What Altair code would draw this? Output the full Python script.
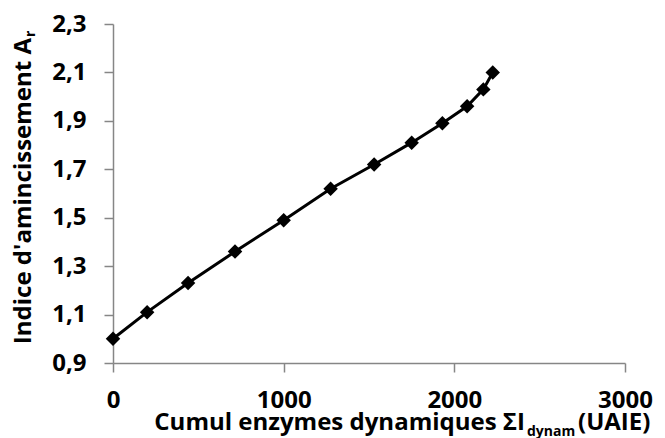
import altair as alt
import pandas as pd

# Data
cumul = [0, 200, 440, 715, 1000, 1275, 1530, 1750, 1930, 2075, 2170, 2225]
indice = [1.00, 1.11, 1.23, 1.36, 1.49, 1.62, 1.72, 1.81, 1.89, 1.96, 2.03, 2.10]
x_ticks = [0, 1000, 2000, 3000]
y_ticks = [0.9, 1.1, 1.3, 1.5, 1.7, 1.9, 2.1, 2.3]

x_title_main = ["Cumul enzymes dynamiques ΣI"]
x_title_sub = ["dynam"]
x_title_end = ["(UAIE)"]
y_title_main = ["Indice d'amincissement A"]
y_title_sub = ["r"]

FONT = "Open Sans"
AXC = "#868686"

df = pd.DataFrame({"x": cumul, "y": indice})

xenc = alt.X(
    "x:Q",
    scale=alt.Scale(domain=[0, 3000], nice=False, zero=False),
    axis=alt.Axis(
        values=x_ticks, title=None, grid=False,
        labelExpr="format(datum.value, 'd')",
        tickSize=9, labelPadding=16, labelFlush=False,
    ),
)
yenc = alt.Y(
    "y:Q",
    scale=alt.Scale(domain=[0.9, 2.3], nice=False, zero=False),
    axis=alt.Axis(
        values=y_ticks, title=None, grid=False,
        labelExpr="replace(format(datum.value, '.1f'), '.', ',')",
        tickSize=9, labelPadding=18, labelFlush=False,
    ),
)

base = alt.Chart(df)
line = base.mark_line(color="black", strokeWidth=3).encode(x=xenc, y=yenc)
pts = base.mark_point(shape="diamond", filled=True, size=210, color="black", opacity=1).encode(
    x="x:Q", y="y:Q"
)


def txt(vals, x, y, size, align, angle=0):
    return alt.Chart(pd.DataFrame({"t": vals})).mark_text(
        font=FONT, fontSize=size, fontWeight="bold", color="black",
        align=align, baseline="alphabetic", angle=angle,
    ).encode(text="t:N", x=alt.value(x), y=alt.value(y))


t1 = txt(x_title_main, 412, 406, 24, "right")
t2 = txt(x_title_sub, 414, 412, 14, "left")
t3 = txt(x_title_end, 465, 406, 24, "left")
t4 = txt(y_title_main, -82, 14, 24, "right", 270)
t5 = txt(y_title_sub, -78, 13, 14, "left", 270)

chart = alt.layer(line, pts, t1, t2, t3, t4, t5).properties(
    width=512, height=339,
    autosize=alt.AutoSizeParams(type="none"),
    padding={"left": 105, "top": 16, "right": 30, "bottom": 75},
).configure_view(stroke=None).configure_axis(
    domainColor=AXC, domainWidth=1.5, tickColor=AXC, tickWidth=1.5,
    labelFont=FONT, labelFontSize=24, labelFontWeight="bold", labelColor="black",
)

chart.save("out.html", embed_options={"renderer": "svg", "actions": False})
